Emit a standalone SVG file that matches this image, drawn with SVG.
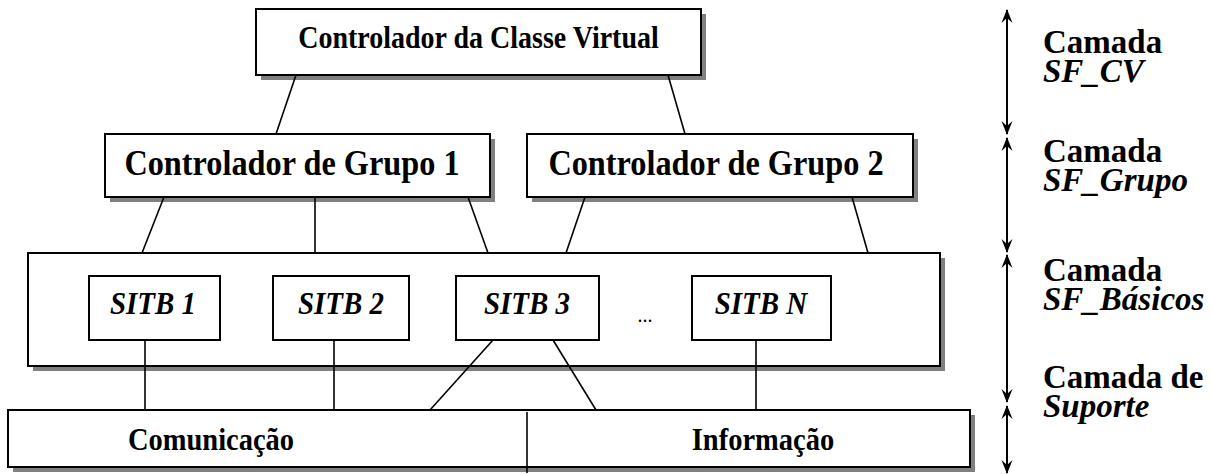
<svg xmlns="http://www.w3.org/2000/svg" width="1213" height="474" viewBox="0 0 1213 474">
<style>
.box{fill:#fff;stroke:#000;stroke-width:2}
.sh{fill:#808080}
.t{font-family:"Liberation Serif","Times New Roman",serif;font-weight:bold;fill:#000;text-anchor:middle}
.ti{font-family:"Liberation Serif","Times New Roman",serif;font-weight:bold;font-style:italic;fill:#000;text-anchor:middle}
.lab{font-family:"Liberation Serif","Times New Roman",serif;font-weight:bold;font-size:33px;fill:#000}
.it{font-style:italic}
.c{stroke:#000;stroke-width:1.6;fill:none}
.ar{stroke:#000;stroke-width:2;fill:none;marker-start:url(#ah);marker-end:url(#ah)}
</style>
<defs>
<marker id="ah" viewBox="0 0 14 12" refX="13" refY="6" markerWidth="14" markerHeight="12" markerUnits="userSpaceOnUse" orient="auto-start-reverse">
<path d="M0,0.5 L14,6 L0,11.5 L5,6 Z" fill="#000"/>
</marker>
</defs>
<g id="ctrl-cv">
<rect class="sh" x="261" y="14" width="445" height="66"/>
<rect class="box" x="256" y="9" width="445" height="66"/>
<text class="t" transform="translate(478.5,48) scale(1,1.12)" font-size="28">Controlador da Classe Virtual</text>
</g>
<g id="ctrl-g1">
<rect class="sh" x="110" y="139" width="385" height="63"/>
<rect class="box" x="105" y="134" width="385" height="63"/>
<text class="t" transform="translate(292,175) scale(1,1.12)" font-size="32.3">Controlador de Grupo 1</text>
</g>
<g id="ctrl-g2">
<rect class="sh" x="532" y="139" width="386" height="63"/>
<rect class="box" x="527" y="134" width="386" height="63"/>
<text class="t" transform="translate(716,175) scale(1,1.12)" font-size="32.3">Controlador de Grupo 2</text>
</g>
<g id="basicos">
<rect class="sh" x="33" y="258" width="912" height="113"/>
<rect class="box" x="28" y="253" width="912" height="113"/>
<text x="645" y="322" font-family="Liberation Serif, serif" font-size="20" text-anchor="middle">...</text>
</g>
<g id="sitb1">
<rect class="box" x="89" y="276" width="131" height="64"/>
<text class="ti" transform="translate(153,314) scale(1,1.12)" font-size="29">SITB 1</text>
</g>
<g id="sitb2">
<rect class="box" x="273" y="276" width="136" height="64"/>
<text class="ti" transform="translate(341,314) scale(1,1.12)" font-size="29">SITB 2</text>
</g>
<g id="sitb3">
<rect class="box" x="456" y="276" width="143" height="64"/>
<text class="ti" transform="translate(527,314) scale(1,1.12)" font-size="29">SITB 3</text>
</g>
<g id="sitbn">
<rect class="box" x="692" y="276" width="139" height="64"/>
<text class="ti" transform="translate(761,314) scale(1,1.12)" font-size="29">SITB N</text>
</g>
<g id="suporte">
<rect class="sh" x="13" y="415" width="962" height="57"/>
<rect class="box" x="8" y="410" width="962" height="57"/>
<line class="c" x1="527" y1="412" x2="527" y2="473"/>
<text class="t" transform="translate(211,450) scale(1,1.12)" font-size="28.5">Comunicação</text>
<text class="t" transform="translate(763,450) scale(1,1.12)" font-size="28.5">Informação</text>
</g>
<g id="connectors">
<line class="c" x1="296" y1="75" x2="276" y2="134"/>
<line class="c" x1="668" y1="75" x2="685" y2="134"/>
<line class="c" x1="164" y1="197" x2="142" y2="253"/>
<line class="c" x1="315" y1="197" x2="315" y2="253"/>
<line class="c" x1="468" y1="197" x2="488" y2="253"/>
<line class="c" x1="585" y1="197" x2="566" y2="253"/>
<line class="c" x1="852" y1="197" x2="868" y2="253"/>
<line class="c" x1="145" y1="340" x2="145" y2="410"/>
<line class="c" x1="334" y1="340" x2="334" y2="410"/>
<line class="c" x1="493" y1="340" x2="430" y2="410"/>
<line class="c" x1="553" y1="340" x2="596" y2="410"/>
<line class="c" x1="756" y1="340" x2="756" y2="410"/>
</g>
<g id="layers">
<line class="ar" x1="1007" y1="10" x2="1007" y2="134"/>
<line class="ar" x1="1007" y1="138" x2="1007" y2="252"/>
<line class="ar" x1="1007" y1="255" x2="1007" y2="402"/>
<line class="ar" x1="1007" y1="406" x2="1007" y2="473"/>
<text class="lab" x="1043" y="53">Camada<tspan class="it" x="1043" y="82">SF_CV</tspan></text>
<text class="lab" x="1043" y="162">Camada<tspan class="it" x="1043" y="191">SF_Grupo</tspan></text>
<text class="lab" x="1043" y="281">Camada<tspan class="it" x="1043" y="310">SF_Básicos</tspan></text>
<text class="lab" x="1043" y="388">Camada de<tspan class="it" x="1043" y="417">Suporte</tspan></text>
</g>
</svg>
